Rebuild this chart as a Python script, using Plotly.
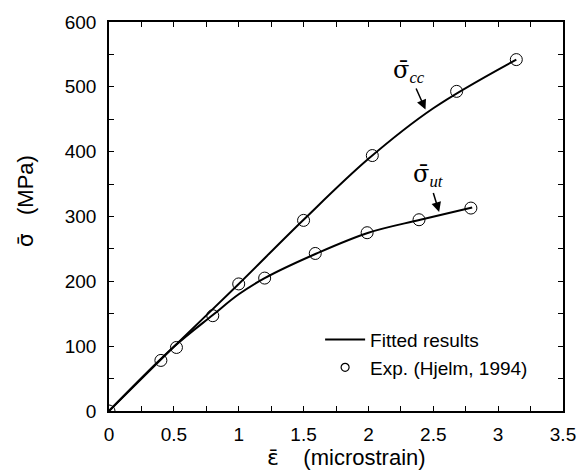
import plotly.graph_objects as go

# Fitted curves
fit_cc_x = [0, 0.5, 1.0, 1.5, 2.0, 2.5, 3.14]
fit_cc_y = [0, 99, 196, 295, 389, 467, 542]
fit_ut_x = [0, 0.5, 0.8, 1.0, 1.2, 1.6, 2.0, 2.4, 2.8]
fit_ut_y = [0, 99, 148, 180, 205, 243, 275, 295, 314]

# Experimental points (Hjelm, 1994)
exp_cc_x = [0, 0.4, 0.52, 0.8, 1.0, 1.5, 2.03, 2.68, 3.14]
exp_cc_y = [0, 78, 98, 147, 196, 294, 394, 493, 542]
exp_ut_x = [1.2, 1.59, 1.99, 2.39, 2.79]
exp_ut_y = [205, 243, 275, 295, 313]

x_ticks = [0, 0.5, 1, 1.5, 2, 2.5, 3, 3.5]
x_tick_text = ["0", "0.5", "1", "1.5", "2", "2.5", "3", "3.5"]
y_ticks = [0, 100, 200, 300, 400, 500, 600]

FONT = "Arial"

fig = go.Figure()
fig.add_trace(go.Scatter(x=fit_cc_x, y=fit_cc_y, mode="lines", name="Fitted results",
                         line=dict(color="black", width=2, shape="spline", smoothing=1.0)))
fig.add_trace(go.Scatter(x=fit_ut_x, y=fit_ut_y, mode="lines", showlegend=False,
                         line=dict(color="black", width=2, shape="spline", smoothing=1.0)))
fig.add_trace(go.Scatter(x=exp_cc_x + exp_ut_x, y=exp_cc_y + exp_ut_y, mode="markers",
                         showlegend=False,
                         marker=dict(symbol="circle-open", size=12, color="black",
                                     line=dict(width=1, color="black"))))
fig.add_trace(go.Scatter(x=[None], y=[None], mode="markers", name="Exp. (Hjelm, 1994)",
                         marker=dict(symbol="circle-open", size=8, color="black",
                                     line=dict(width=1.2, color="black"))))

axis_common = dict(
    showline=True, linewidth=1.5, linecolor="black", mirror="ticks",
    ticks="inside", ticklen=5, tickwidth=1, tickcolor="black",
    showgrid=False, zeroline=False,
    tickfont=dict(family=FONT, size=19, color="black"),
)

SIG = '<span style="font-family:DejaVu Sans">σ̄</span>'
EPS = '<span style="font-family:DejaVu Sans">ε̄</span>'
SIG_SERIF = '<span style="font-family:DejaVu Serif">σ̄</span>'

fig.update_xaxes(range=[0, 3.5], tickvals=x_ticks, ticktext=x_tick_text,
                 minor=dict(dtick=0.25, ticks="inside", ticklen=5, tickcolor="black"),
                 ticklabelstandoff=5, **axis_common)
fig.update_yaxes(range=[0, 600], tickvals=y_ticks,
                 minor=dict(dtick=50, ticks="inside", ticklen=5, tickcolor="black"),
                 ticklabelstandoff=7, **axis_common)

# Axis titles
fig.add_annotation(xref="paper", yref="paper", x=0.524, y=-0.12, yanchor="middle",
                   text=EPS + "    (microstrain)", showarrow=False,
                   font=dict(family=FONT, size=22, color="black"))
fig.add_annotation(xref="paper", yref="paper", x=-0.182, y=0.54, xanchor="center",
                   yanchor="middle", textangle=-90,
                   text=SIG + "   (MPa)", showarrow=False,
                   font=dict(family=FONT, size=22, color="black"))

# Curve labels with arrows
fig.add_annotation(x=2.44, y=465, ax=-17, ay=-38,
                   text=SIG_SERIF + "<sub><i>cc</i></sub>", showarrow=True,
                   arrowhead=2, arrowsize=1.3, arrowwidth=1.5, arrowcolor="black",
                   font=dict(family="Liberation Serif", size=24, color="black"))
fig.add_annotation(x=2.545, y=307, ax=-11, ay=-36,
                   text=SIG_SERIF + "<sub><i>ut</i></sub>", showarrow=True,
                   arrowhead=2, arrowsize=1.3, arrowwidth=1.5, arrowcolor="black",
                   font=dict(family="Liberation Serif", size=24, color="black"))

fig.update_layout(
    width=588, height=476,
    margin=dict(l=109, r=17, t=19, b=65),
    plot_bgcolor="white", paper_bgcolor="white",
    legend=dict(x=0.465, y=0.232, xanchor="left", yanchor="top",
                bgcolor="rgba(0,0,0,0)", borderwidth=0, itemwidth=40,
                font=dict(family=FONT, size=19, color="black"),
                tracegroupgap=0),
)

fig.write_html("out.html")
